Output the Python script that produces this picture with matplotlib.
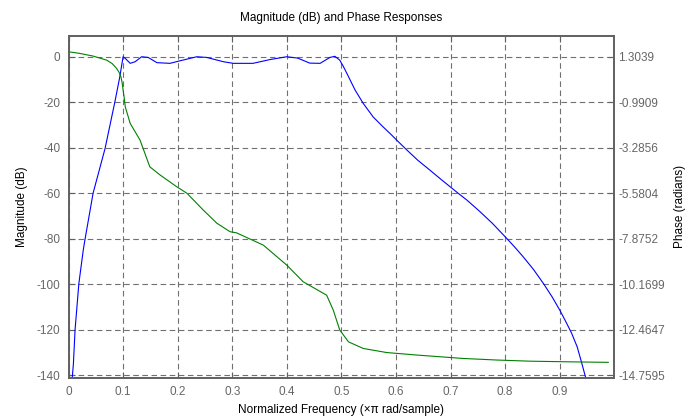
import numpy as np
import matplotlib
matplotlib.use("Agg")
import matplotlib.pyplot as plt

plt.rcParams['font.family'] = ['Liberation Sans', 'DejaVu Sans']

# magnitude response (dB)
mag_f = [0.005, 0.007, 0.009, 0.012, 0.019, 0.027, 0.030, 0.045, 0.067, 0.085, 0.094,
         0.100, 0.104, 0.113, 0.122, 0.134, 0.146, 0.162, 0.186, 0.204, 0.235, 0.253,
         0.284, 0.302, 0.338, 0.370, 0.400, 0.420, 0.442, 0.461, 0.479, 0.488, 0.497,
         0.503, 0.510, 0.525, 0.540, 0.558, 0.575, 0.589, 0.605, 0.620, 0.640, 0.662,
         0.680, 0.699, 0.715, 0.730, 0.754, 0.777, 0.800, 0.817, 0.833, 0.852, 0.870,
         0.886, 0.900, 0.912, 0.922, 0.932, 0.940, 0.952]
mag_db = [-150, -140.7, -134.8, -120, -99.6, -85, -80.6, -60, -40.3, -19.8, -8.8,
          0, -0.7, -2.9, -2.2, 0, -0.3, -2.6, -2.9, -1.8, 0, -0.3,
          -2.2, -2.9, -2.9, -1.2, 0, -0.6, -2.8, -2.9, -0.3, 0.2, -1.5,
          -4.0, -7.3, -14.6, -20.5, -26.4, -30.5, -33.7, -37.5, -41, -45.5, -49.8,
          -53.4, -57.1, -60.2, -63, -68.1, -73.3, -79.1, -83.5, -87.9, -93.5, -99.6,
          -105.5, -111.3, -116.8, -121.6, -127.5, -134.3, -145]

# phase response (radians)
ph_f = [0, 0.020, 0.045, 0.070, 0.080, 0.088, 0.093, 0.096, 0.098, 0.100, 0.102,
        0.104, 0.113, 0.131, 0.149, 0.168, 0.198, 0.217, 0.247, 0.272, 0.296, 0.308,
        0.357, 0.400, 0.430, 0.473, 0.485, 0.497, 0.513, 0.540, 0.583, 0.638, 0.723,
        0.785, 0.846, 0.925, 0.989]
ph_rad = [1.556, 1.475, 1.338, 1.132, 0.960, 0.719, 0.501, 0.294, 0.042, -0.371, -0.761,
          -1.220, -2.058, -2.895, -4.249, -4.662, -5.247, -5.580, -6.429, -7.095, -7.519, -7.577,
          -8.196, -9.206, -10.044, -10.721, -11.466, -12.476, -13.073, -13.406, -13.612, -13.738, -13.910,
          -13.990, -14.048, -14.083, -14.106]

db_ticks = [0, -20, -40, -60, -80, -100, -120, -140]
ph_ticks = ['1.3039', '-0.9909', '-3.2856', '-5.5804', '-7.8752', '-10.1699', '-12.4647', '-14.7595']
x_ticks = [0, 0.1, 0.2, 0.3, 0.4, 0.5, 0.6, 0.7, 0.8, 0.9]

# phase axis is a linear map of the dB axis
ph0, ph_step = 1.3039, 2.29476 / 20.0
db_lim = (-141.05, 9.1)
ph_lim = (ph0 + db_lim[0] * ph_step, ph0 + db_lim[1] * ph_step)

grey = '#606060'
fig = plt.figure(figsize=(6.92, 4.19), dpi=100)
ax = fig.add_axes([0.099, 0.0986, 0.7887, 0.8154])
ax2 = ax.twinx()

ax.plot(mag_f, mag_db, color=(0, 0, 1), lw=0.8)
ax2.plot(ph_f, ph_rad, color=(0, 0.5, 0), lw=0.8)

ax.set_xlim(0, 1)
ax.set_ylim(*db_lim)
ax2.set_ylim(*ph_lim)
ax.set_xticks(x_ticks)
ax.set_xticklabels(['0'] + ['%.1f' % v for v in x_ticks[1:]])
ax.set_yticks(db_ticks)
ax.set_yticklabels([str(v) for v in db_ticks])
ax2.set_yticks([ph0 + v * ph_step for v in db_ticks])
ax2.set_yticklabels(ph_ticks)

ax.grid(True, color='#707070', linestyle=(0, (5, 3.2)), lw=0.8)
for a in (ax, ax2):
    for s in a.spines.values():
        s.set_color(grey)
        s.set_linewidth(1.2)
    a.tick_params(direction='in', length=4, width=0.8, color=grey,
                  labelcolor='#666666', labelsize=8.5)
ax.tick_params(top=True, bottom=True, pad=6)
ax2.tick_params(pad=3)

ax.set_title('Magnitude (dB) and Phase Responses', fontsize=8.5, pad=11)
ax.set_xlabel('Normalized Frequency (\u00d7\u03c0 rad/sample)', fontsize=8.5, labelpad=4)
ax.set_ylabel('Magnitude (dB)', fontsize=8.5, labelpad=6)
ax2.set_ylabel('Phase (radians)', fontsize=8.5, rotation=90, labelpad=6)

fig.savefig('out.png', dpi=100)
